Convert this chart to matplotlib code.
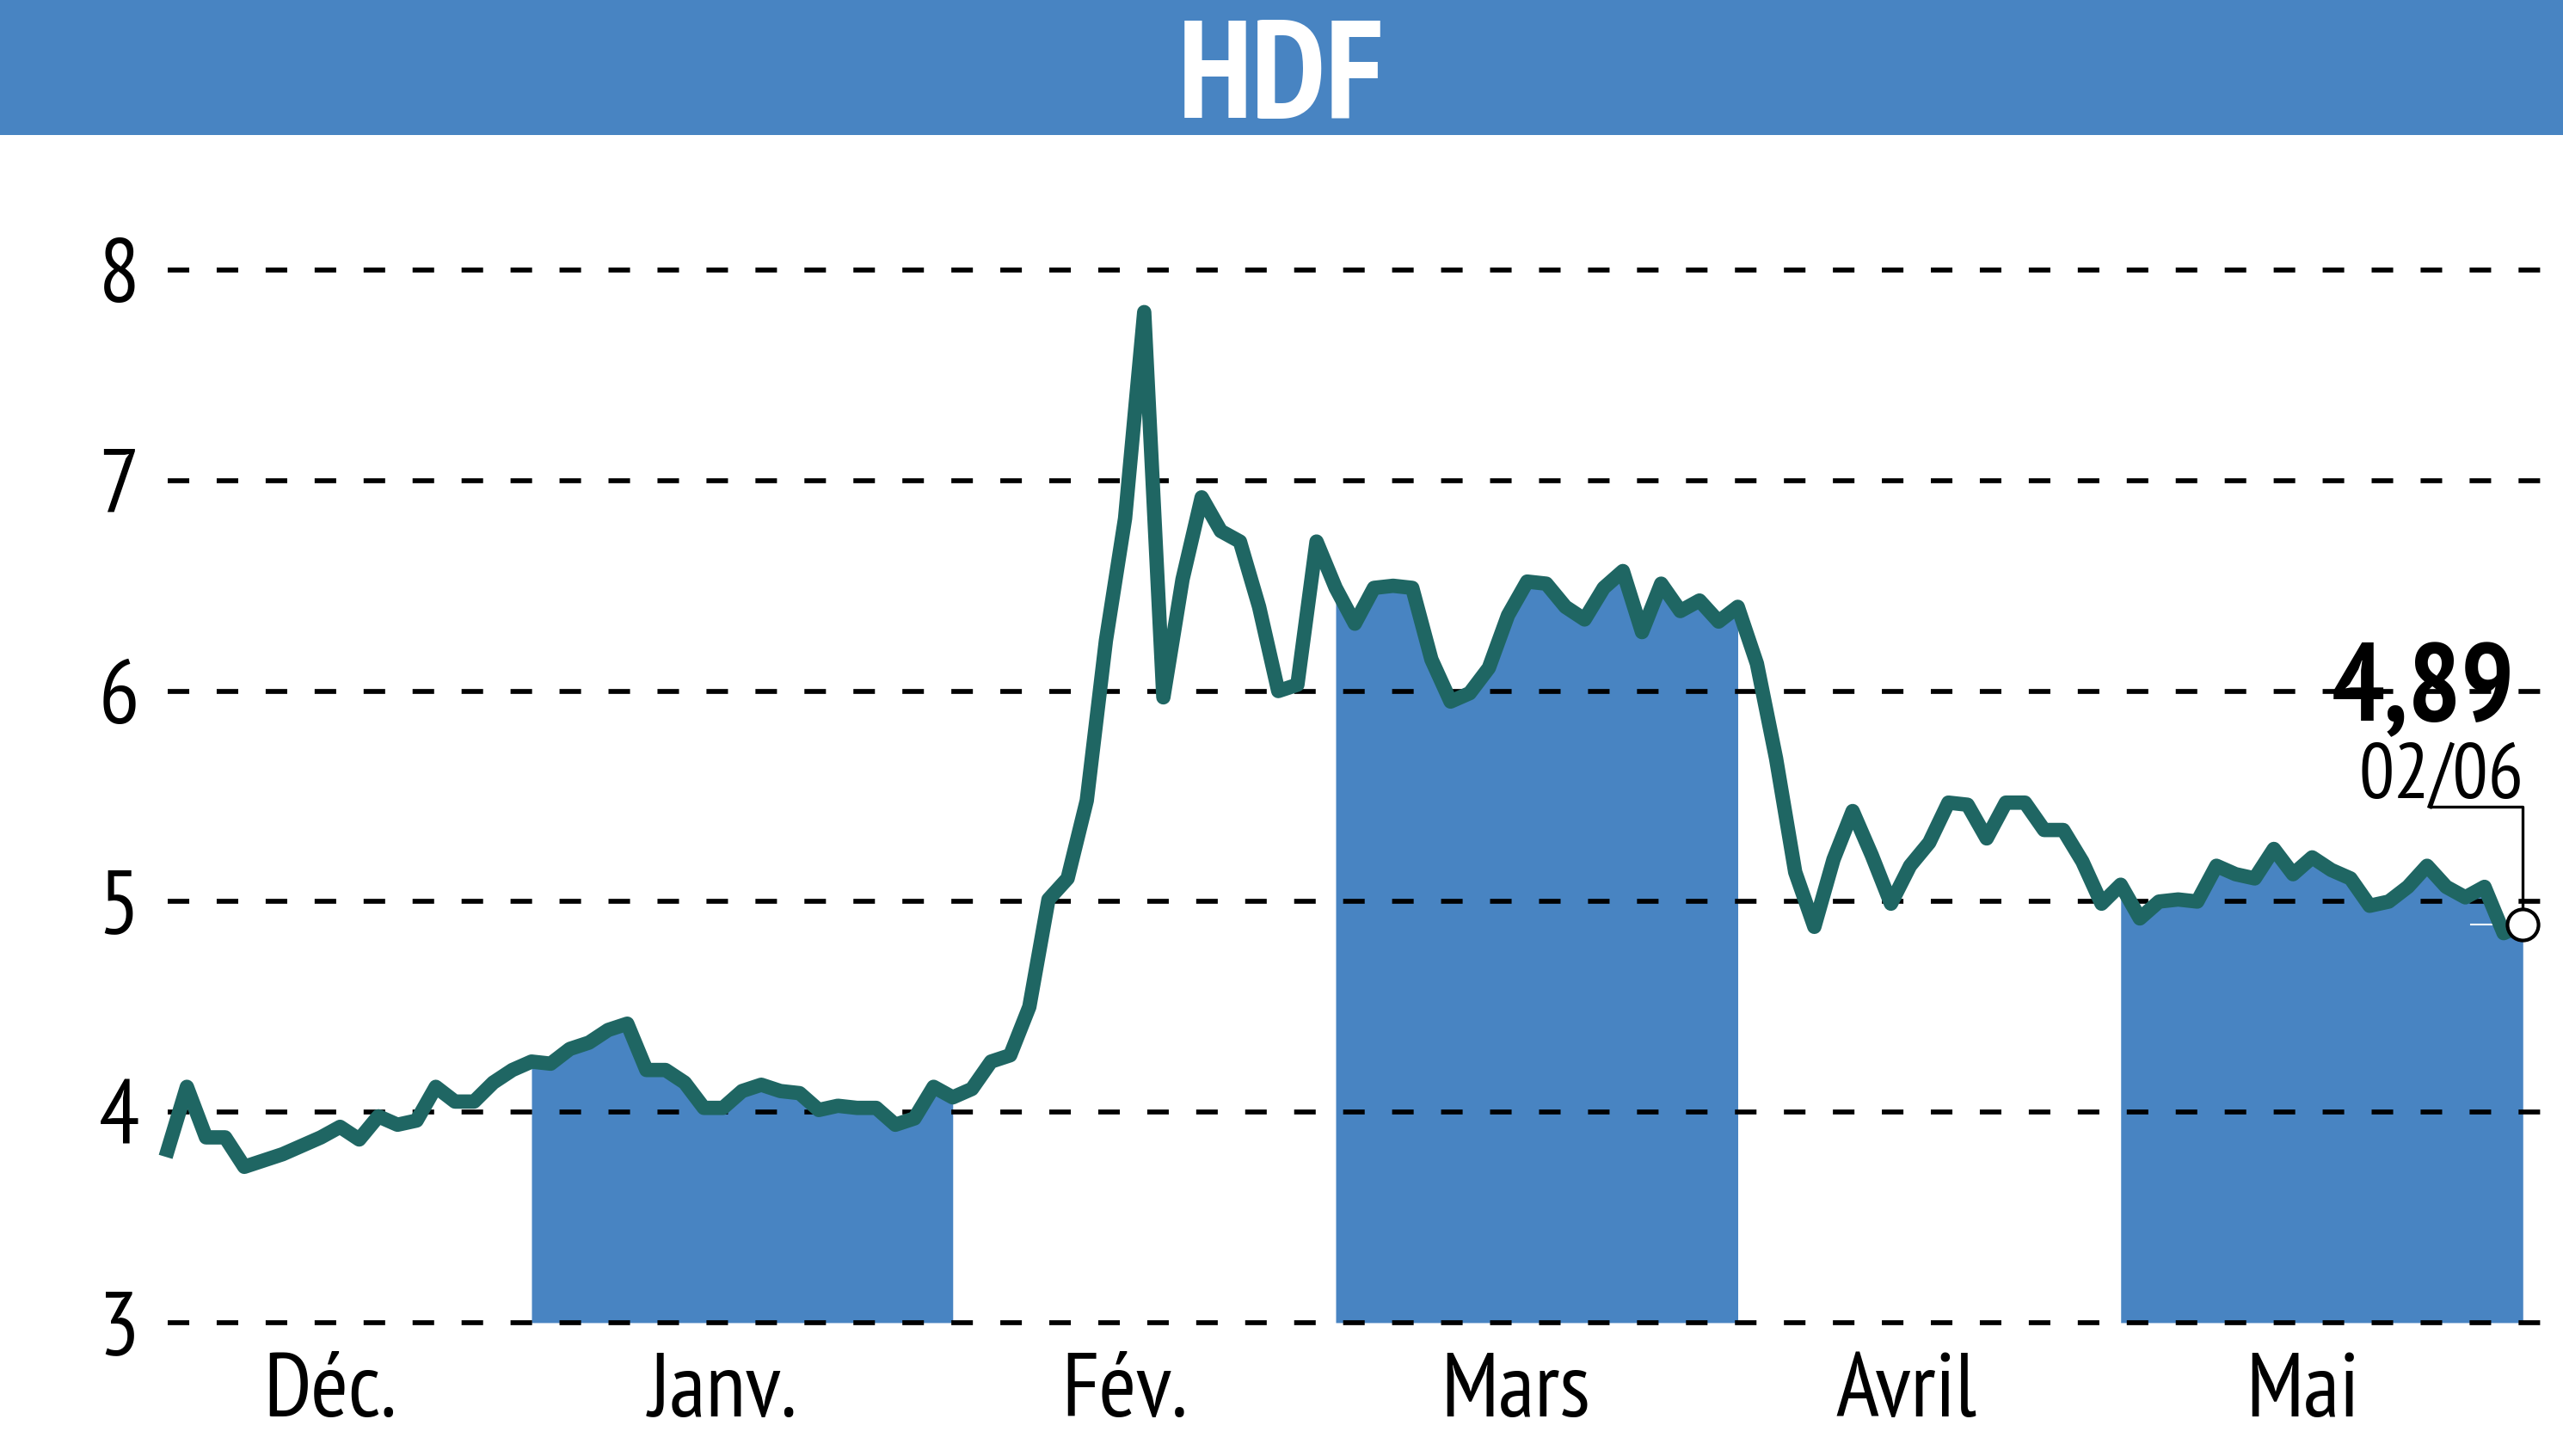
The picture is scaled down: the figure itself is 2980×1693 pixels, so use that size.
import numpy as np
import matplotlib
matplotlib.use("Agg")
import matplotlib.pyplot as plt
from matplotlib.patches import Rectangle

# ---- data (one value per trading session) ----
title = "HDF"
prices = [
    3.82, 4.12, 3.88, 3.88, 3.74, 3.77, 3.80, 3.84, 3.88, 3.93,
    3.87, 3.98, 3.94, 3.96, 4.12, 4.05, 4.05, 4.14, 4.20, 4.24,
    4.23, 4.30, 4.33, 4.39, 4.42, 4.20, 4.20, 4.14, 4.02, 4.02,
    4.10, 4.13, 4.10, 4.09, 4.01, 4.03, 4.02, 4.02, 3.94, 3.97,
    4.12, 4.07, 4.11, 4.24, 4.27, 4.50, 5.01, 5.11, 5.48, 6.24,
    6.82, 7.80, 5.97, 6.53, 6.92, 6.76, 6.71, 6.40, 6.00, 6.03,
    6.71, 6.49, 6.32, 6.49, 6.50, 6.49, 6.15, 5.95, 5.99, 6.11,
    6.36, 6.52, 6.51, 6.40, 6.34, 6.49, 6.57, 6.28, 6.51, 6.38,
    6.43, 6.33, 6.40, 6.13, 5.68, 5.14, 4.88, 5.20, 5.43, 5.22,
    4.99, 5.17, 5.28, 5.47, 5.46, 5.30, 5.47, 5.47, 5.34, 5.34,
    5.19, 4.99, 5.08, 4.92, 5.00, 5.01, 5.00, 5.17, 5.13, 5.11,
    5.25, 5.13, 5.21, 5.15, 5.11, 4.98, 5.00, 5.07, 5.17, 5.07,
    5.02, 5.07, 4.85, 4.89,
]
month_labels = ["Déc.", "Janv.", "Fév.", "Mars", "Avril", "Mai"]
month_first = [0, 19, 42, 61, 83, 102]      # index of first session of each month
label_pos = [8.5, 29, 50, 70.4, 90.8, 111.5]
shaded = [1, 3, 5]                          # Janv., Mars, Mai
y_ticks = [3, 4, 5, 6, 7, 8]
last_label = "4,89"
last_date = "02/06"

BLUE = "#4884c2"
TEAL = "#1f6663"
FONT = ["PT Sans Narrow", "Roboto Condensed", "DejaVu Sans"]

x = np.arange(len(prices))
y = np.array(prices)
n = len(prices)

fig = plt.figure(figsize=(29.8, 16.93), dpi=100)

# title bar
fig.add_artist(Rectangle((0, 0.9073), 1, 0.0927, transform=fig.transFigure,
                         color=BLUE, lw=0))
fig.text(0.5, 0.919, title, ha="center", va="baseline", color="white",
         fontsize=116, fontweight="bold", family=FONT)

ax = fig.add_axes([0.06544, 0.0916, 0.93456, 0.76635])
ax.set_xlim(0, 125.1)
ax.set_ylim(3, 8.3)
for s in ax.spines.values():
    s.set_visible(False)

# dashed grid
for v in y_ticks:
    ax.axhline(v, color="black", lw=4.1, dashes=(4.4, 5.6), clip_on=False, zorder=3)

# shaded months, filled under the curve
for m in shaded:
    s = month_first[m]
    e = month_first[m + 1] if m + 1 < len(month_first) else n
    ax.fill_between(x[s:e], 3, y[s:e], color=BLUE, lw=0, zorder=2)

# price line
ax.plot(x, y, color=TEAL, lw=12, solid_joinstyle="round", clip_on=False, zorder=5)

# last value marker and callout
ax.plot([x[-1] - 2.7, x[-1]], [y[-1], y[-1]], color="white", lw=1.5, zorder=4)
ax.plot([x[-1] - 4.8, x[-1], x[-1]], [5.45, 5.45, y[-1]], color="black", lw=2.4,
        clip_on=False, zorder=6)
ax.plot(x[-1], y[-1], marker="o", ms=26, mfc="white", mec="black", mew=3,
        clip_on=False, zorder=7)
ax.text(x[-1] - 0.4, 5.86, last_label, ha="right", va="baseline", fontsize=93,
        fontweight="bold", family=FONT, zorder=8)
ax.text(x[-1] + 0.05, 5.49, last_date, ha="right", va="baseline", fontsize=66,
        family=FONT, zorder=8)

# axes labels
ax.set_xticks([])
ax.set_yticks(y_ticks)
ax.set_yticklabels([str(v) for v in y_ticks])
ax.tick_params(axis="y", length=0, pad=23.8, labelsize=76)
for lab in ax.get_yticklabels():
    lab.set_family(FONT)
for pos, lab in zip(label_pos, month_labels):
    ax.text(pos, 2.555, lab, ha="center", va="baseline", fontsize=76,
            family=FONT, clip_on=False)

fig.savefig("out.png", dpi=100)
